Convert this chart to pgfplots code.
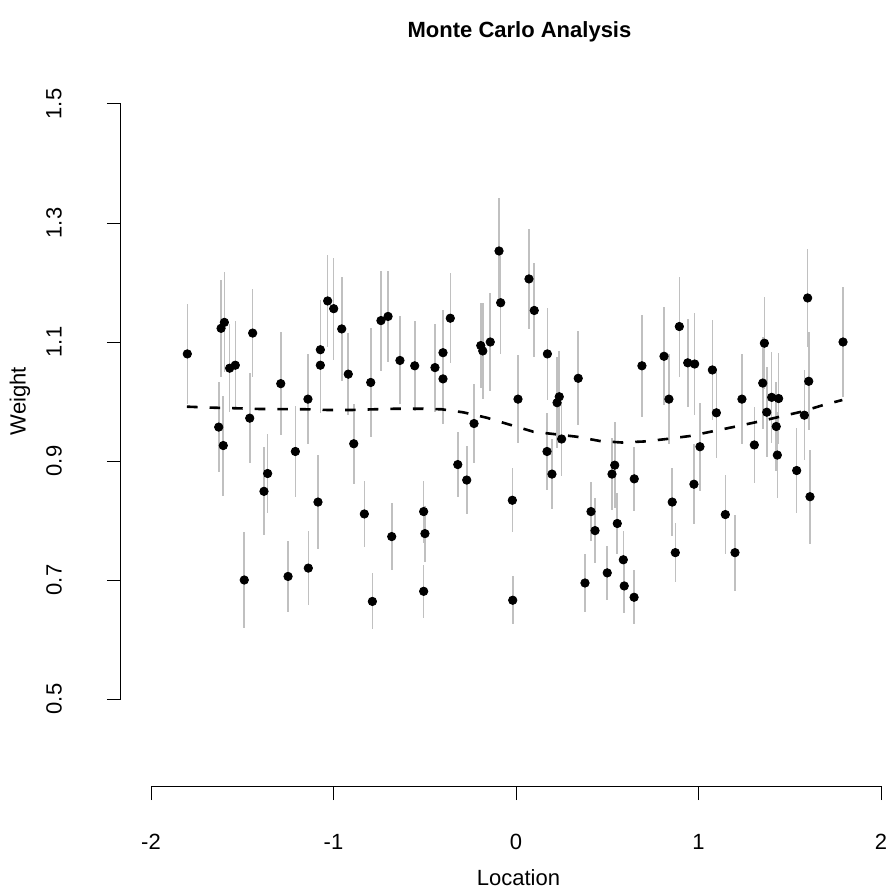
\documentclass[border=0pt]{standalone}
\usepackage{pgfplots}
\pgfplotsset{compat=1.18}
\usepackage{pgfplotstable}
\usepackage{fontspec}
\setmainfont{Liberation Sans}
\definecolor{errgray}{RGB}{192,192,192}

\pgfplotstableread{
x y e
-1.801 1.080 0.084
-1.629 0.957 0.076
-1.616 1.123 0.081
-1.604 0.926 0.084
-1.598 1.133 0.084
-1.569 1.056 0.074
-1.538 1.061 0.074
-1.489 0.700 0.081
-1.459 0.972 0.076
-1.443 1.115 0.074
-1.381 0.849 0.074
-1.361 0.879 0.066
-1.289 1.030 0.087
-1.249 0.706 0.059
-1.209 0.916 0.077
-1.140 1.004 0.076
-1.138 0.720 0.062
-1.085 0.831 0.079
-1.072 1.087 0.084
-1.072 1.061 0.081
-1.032 1.169 0.077
-0.999 1.156 0.086
-0.955 1.122 0.087
-0.919 1.046 0.069
-0.889 0.929 0.067
-0.831 0.811 0.055
-0.796 1.032 0.092
-0.787 0.664 0.047
-0.740 1.136 0.084
-0.701 1.143 0.077
-0.681 0.773 0.057
-0.636 1.069 0.074
-0.555 1.060 0.076
-0.506 0.815 0.052
-0.499 0.778 0.047
-0.506 0.681 0.045
-0.444 1.057 0.074
-0.400 1.082 0.071
-0.400 1.038 0.076
-0.360 1.140 0.076
-0.319 0.894 0.055
-0.270 0.868 0.057
-0.230 0.963 0.067
-0.193 1.094 0.072
-0.182 1.085 0.081
-0.141 1.100 0.082
-0.093 1.253 0.089
-0.084 1.166 0.086
-0.020 0.834 0.054
-0.018 0.666 0.040
0.011 1.004 0.074
0.071 1.206 0.084
0.100 1.153 0.079
0.170 0.916 0.064
0.172 1.080 0.077
0.197 0.878 0.059
0.225 0.998 0.076
0.237 1.008 0.077
0.250 0.937 0.062
0.341 1.039 0.079
0.378 0.695 0.049
0.411 0.815 0.050
0.433 0.783 0.054
0.500 0.712 0.045
0.526 0.878 0.061
0.541 0.893 0.072
0.555 0.795 0.052
0.588 0.734 0.049
0.593 0.690 0.045
0.647 0.671 0.045
0.648 0.870 0.054
0.690 1.060 0.086
0.811 1.076 0.082
0.838 1.004 0.076
0.856 0.831 0.057
0.873 0.746 0.050
0.895 1.126 0.084
0.941 1.065 0.074
0.975 0.861 0.067
0.979 1.063 0.086
1.008 0.924 0.074
1.076 1.053 0.084
1.098 0.981 0.076
1.147 0.810 0.066
1.200 0.746 0.064
1.238 1.004 0.076
1.306 0.927 0.064
1.352 1.031 0.077
1.361 1.098 0.077
1.374 0.982 0.076
1.401 1.007 0.077
1.426 0.958 0.074
1.432 0.910 0.072
1.439 1.005 0.077
1.538 0.884 0.072
1.580 0.977 0.076
1.598 1.174 0.082
1.604 1.034 0.082
1.611 0.840 0.079
1.792 1.100 0.092
}\data

\pgfplotstableread{
x y
-1.803 0.9913
-1.659 0.9896
-1.530 0.9886
-1.403 0.9874
-1.152 0.9869
-1.028 0.9857
-0.904 0.9857
-0.778 0.9869
-0.654 0.9879
-0.526 0.9879
-0.407 0.9869
-0.289 0.9818
-0.161 0.9728
-0.060 0.9634
0.095 0.9492
0.204 0.9454
0.333 0.9408
0.460 0.9336
0.579 0.9311
0.701 0.9328
0.826 0.9370
0.953 0.9420
1.200 0.9577
1.328 0.9661
1.447 0.9745
1.565 0.9829
1.684 0.9941
1.788 1.0025
}\fit

\begin{document}
\begin{tikzpicture}[x=1pt,y=1pt]
\useasboundingbox (0,0) rectangle (445.5,447.5);
\begin{axis}[
  at={(60.5pt,54.5pt)}, anchor=south west,
  scale only axis, width=385pt, height=385pt,
  xmin=-2.1644, xmax=2.0548, ymin=0.3538, ymax=1.6479,
  axis x line*=bottom, axis y line*=left,
  axis line style={draw=none},
  xtick={-2,-1,0,1,2}, xticklabels={-2,-1,0,1,2},
  ytick={0.5,0.7,0.9,1.1,1.3,1.5}, yticklabels={0.5,0.7,0.9,1.1,1.3,1.5},
  tick align=outside, major tick length=7pt,
  tick style={black, line width=0.5pt},
  tick label style={font=\fontsize{11}{13}\selectfont},
  xticklabel style={anchor=center, yshift=-21pt},
  yticklabel style={xshift=-26.5pt, rotate=90, anchor=center},
  clip=false,
]
\draw[line width=0.5pt] (axis cs:-2,0.3538) -- (axis cs:2,0.3538);
\draw[line width=0.5pt] (axis cs:-2.1644,0.5) -- (axis cs:-2.1644,1.5);
\addplot[draw=none, mark=none, forget plot,
  error bars/.cd, y dir=both, y explicit, error mark=none,
  error bar style={draw=errgray, line width=0.8pt, solid}]
  table[x=x, y=y, y error=e] {\data};
\addplot[only marks, mark=*, mark size=2.1pt, black] table[x=x, y=y] {\data};
\addplot[black, line width=1.3pt, dash pattern=on 5.3pt off 6pt, mark=none] table[x=x, y=y] {\fit};
\end{axis}
\node[font=\bfseries\fontsize{11}{13}\selectfont] at (259.75,431.5) {Monte Carlo Analysis};
\node[font=\fontsize{11}{13}\selectfont] at (259.25,8.5) {Location};
\node[font=\fontsize{11}{13}\selectfont, rotate=90] at (10,247) {Weight};
\end{tikzpicture}
\end{document}
